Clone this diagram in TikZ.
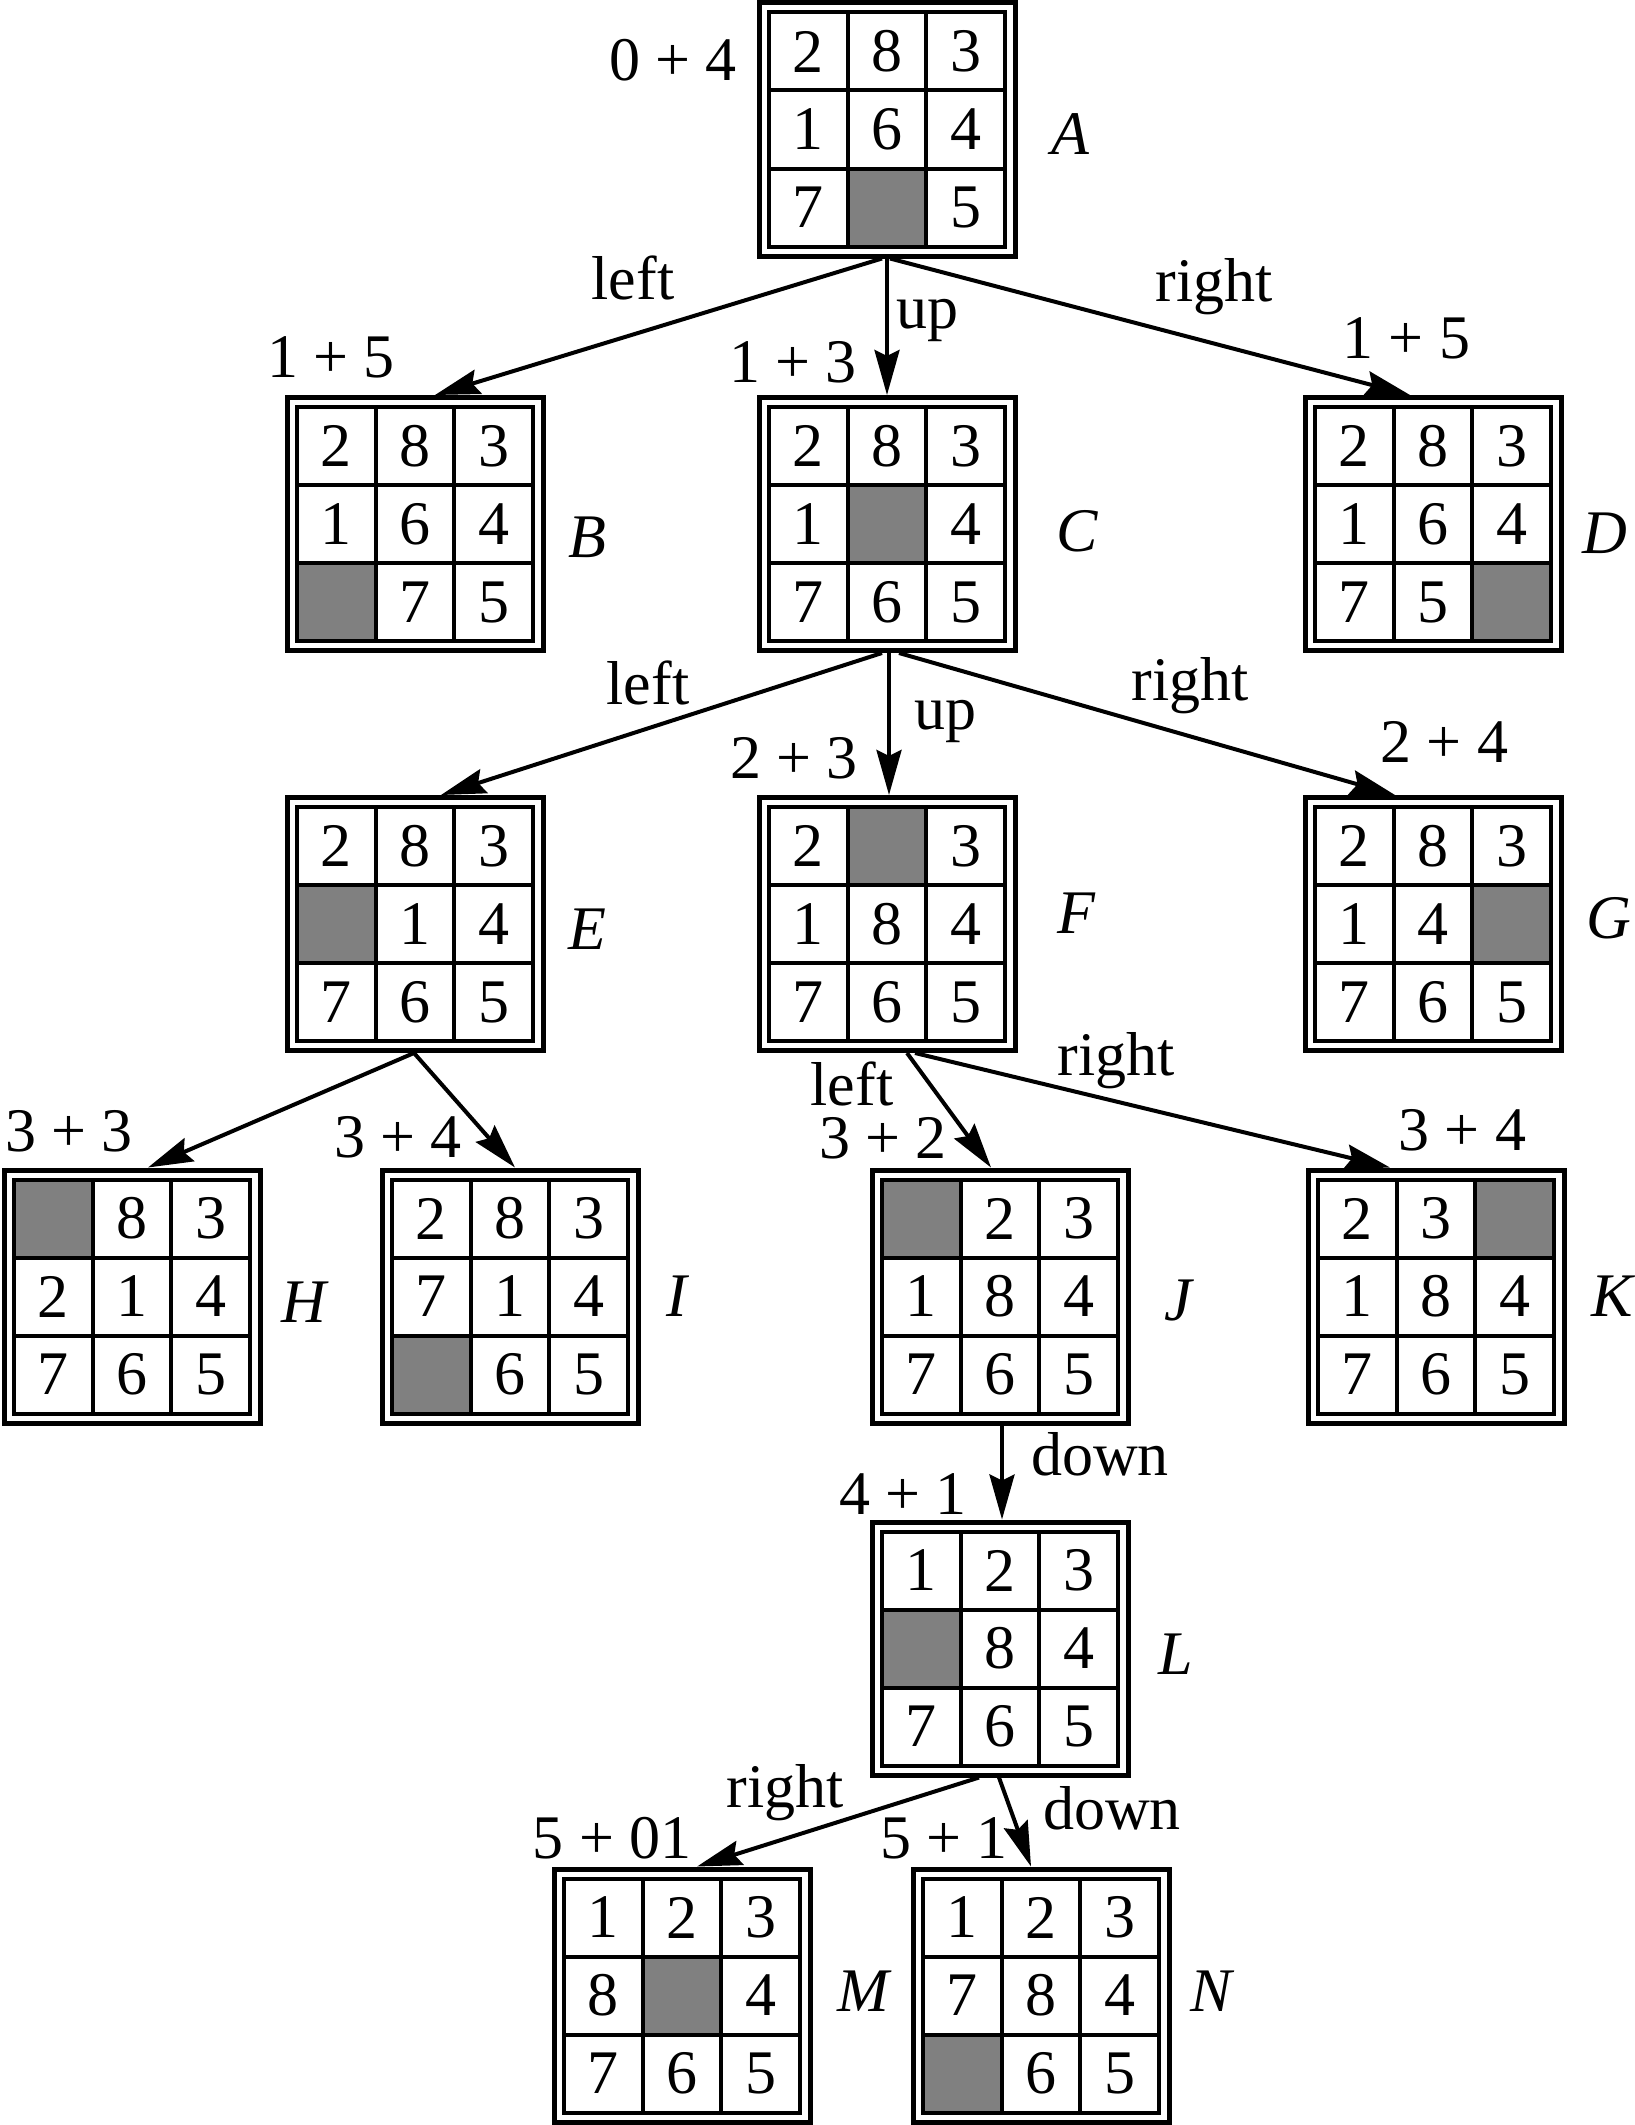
\documentclass[tikz,border=0pt]{standalone}
\usepackage{fontspec}
\setmainfont{Liberation Serif}
\usetikzlibrary{arrows.meta,calc}
\definecolor{blankc}{RGB}{128,128,128}
\newcommand{\lbsize}{\fontsize{31}{37}\selectfont}
\tikzset{
  pzbox/.style={draw, line width=2.5pt, rectangle, inner sep=0pt, outer sep=1.25pt,
                minimum width=128pt, minimum height=126.5pt},
  gridln/.style={line width=2pt},
  digit/.style={font=\lbsize, inner sep=0pt, anchor=center},
  lbl/.style={font=\lbsize, inner sep=0pt, anchor=base},
  nm/.style={font=\lbsize\itshape, inner sep=0pt, anchor=base},
  arr/.style={line width=2pt, -{Stealth[length=22.5pt, width=12.5pt, inset=3pt]}},
}
\newcommand{\puz}[4]{%
  \node[pzbox] (#1) at (#2,#3) {};
  \begin{scope}[shift={(#2,#3)}]
    \foreach \v [count=\i from 0] in {#4} {
      \pgfmathtruncatemacro{\rr}{int(\i/3)}
      \pgfmathtruncatemacro{\cc}{mod(\i,3)}
      \ifnum\v=0
        \fill[blankc] (-118+\cc*78.667,-117+\rr*78) rectangle ++(78.667,78);
      \else
        \node[digit] (#1c\i) at (-118+\cc*78.667+39.333,-117+\rr*78+39) {\v};
      \fi
    }
    \draw[gridln] (-118,-117) rectangle (118,117);
    \draw[gridln] (-39.333,-117) -- (-39.333,117);
    \draw[gridln] (39.333,-117) -- (39.333,117);
    \draw[gridln] (-118,-39) -- (118,-39);
    \draw[gridln] (-118,39) -- (118,39);
  \end{scope}
}
\begin{document}
\begin{tikzpicture}[x=0.5pt,y=-0.5pt]
\useasboundingbox (0,0) rectangle (1634,2125);
\fill[white] (0,0) rectangle (1634,2125);

\puz{A}{887}{129.5}{2,8,3,1,6,4,7,0,5}
\puz{B}{415}{524}{2,8,3,1,6,4,0,7,5}
\puz{C}{887}{524}{2,8,3,1,0,4,7,6,5}
\puz{D}{1433}{524}{2,8,3,1,6,4,7,5,0}
\puz{E}{415}{924}{2,8,3,0,1,4,7,6,5}
\puz{F}{887}{924}{2,0,3,1,8,4,7,6,5}
\puz{G}{1433}{924}{2,8,3,1,4,0,7,6,5}
\puz{H}{132}{1296.5}{0,8,3,2,1,4,7,6,5}
\puz{I}{510}{1296.5}{2,8,3,7,1,4,0,6,5}
\puz{J}{1000}{1296.5}{0,2,3,1,8,4,7,6,5}
\puz{K}{1436}{1296.5}{2,3,0,1,8,4,7,6,5}
\puz{L}{1000}{1648.5}{1,2,3,0,8,4,7,6,5}
\puz{M}{682}{1995.5}{1,2,3,8,0,4,7,6,5}
\puz{N}{1041}{1995.5}{1,2,3,7,8,4,0,6,5}

% arrows
\draw[arr] ($(A.south)+(-5,0)$) -- ($(B.north)+(20,0)$);
\draw[arr] (A.south) -- (C.north);
\draw[arr] ($(A.south)+(3,0)$) -- ($(D.north)+(-23,0)$);
\draw[arr] ($(C.south)+(-5,0)$) -- ($(E.north)+(26,0)$);
\draw[arr] ($(C.south)+(2,0)$) -- ($(F.north)+(2,0)$);
\draw[arr] ($(C.south)+(12,0)$) -- ($(G.north)+(-38,0)$);
\draw[arr] ($(E.south)+(-1,0)$) -- ($(H.north)+(16,0)$);
\draw[arr] ($(E.south)+(-1,0)$) -- ($(I.north)+(5,0)$);
\draw[arr] ($(F.south)+(20,0)$) -- ($(J.north)+(-9,0)$);
\draw[arr] ($(F.south)+(28,0)$) -- ($(K.north)+(-46,0)$);
\draw[arr] ($(J.south)+(2,0)$) -- ($(L.north)+(2,0)$);
\draw[arr] ($(L.south)+(-21,0)$) -- ($(M.north)+(15,0)$);
\draw[arr] ($(L.south)+(-1,0)$) -- ($(N.north)+(-10,0)$);

% cost labels
\node[lbl] (fA) at (673,81) {0 + 4};
\node[lbl] (fB) at (331,377) {1 + 5};
\node[lbl] (fC) at (793,382) {1 + 3};
\node[lbl] (fD) at (1406,358) {1 + 5};
\node[lbl] (fF) at (794,778) {2 + 3};
\node[lbl] (fG) at (1444,762) {2 + 4};
\node[lbl] (fH) at (69,1151) {3 + 3};
\node[lbl] (fI) at (398,1157) {3 + 4};
\node[lbl] (fJ) at (883,1158) {3 + 2};
\node[lbl] (fK) at (1462,1150) {3 + 4};
\node[lbl] (fL) at (903,1514) {4 + 1};
\node[lbl] (fM) at (612,1858) {5 + 01};
\node[lbl] (fN) at (944,1858) {5 + 1};

% move labels
\node[lbl] (mAB) at (633,299) {left};
\node[lbl] (mAC) at (927,328) {up};
\node[lbl] (mAD) at (1214,301) {right};
\node[lbl] (mCE) at (648,704) {left};
\node[lbl] (mCF) at (945,729) {up};
\node[lbl] (mCG) at (1190,700) {right};
\node[lbl] (mFJ) at (852,1105) {left};
\node[lbl] (mFK) at (1116,1075) {right};
\node[lbl] (mJL) at (1100,1475) {down};
\node[lbl] (mLM) at (785,1807) {right};
\node[lbl] (mLN) at (1112,1829) {down};

% state names
\node[nm] (nA) at (1070,155) {A};
\node[nm] (nB) at (587,557) {B};
\node[nm] (nC) at (1077,551) {C};
\node[nm] (nD) at (1605,553) {D};
\node[nm] (nE) at (587,949) {E};
\node[nm] (nF) at (1076,933) {F};
\node[nm] (nG) at (1609,938) {G};
\node[nm] (nH) at (304,1322) {H};
\node[nm] (nI) at (677,1316) {I};
\node[nm] (nJ) at (1178,1320) {J};
\node[nm] (nK) at (1612,1316) {K};
\node[nm] (nL) at (1176,1674) {L};
\node[nm] (nM) at (863,2011) {M};
\node[nm] (nN) at (1211,2011) {N};
\end{tikzpicture}
\end{document}
